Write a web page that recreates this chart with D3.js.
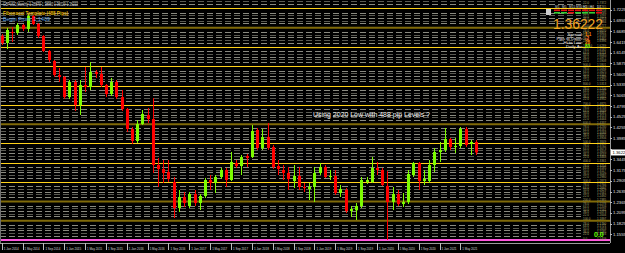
<!DOCTYPE html>
<html>
<head>
<meta charset="utf-8">
<script src="https://cdn.jsdelivr.net/npm/d3@7"></script>
<style>
  html, body { margin: 0; padding: 0; background: #000; overflow: hidden; }
  svg { display: block; font-family: "Liberation Sans", Arial, sans-serif; }
</style>
</head>
<body>
<div id="chart"></div>
<script>
// GBPUSD monthly, Jan 2014 .. Aug 2021
const open = [1.6567,1.6390,1.6668,1.6643,1.6845,1.6744,1.7072,1.6870,1.6567,1.6188,
  1.5935,1.5581,1.5530,1.5024,1.5404,1.4822,1.5328,1.5277,1.5657,1.5606,
  1.5328,1.5100,1.5404,1.5024,1.4721,1.4216,1.3912,1.4342,1.4569,1.4468,
  1.3305,1.3204,1.3128,1.2875,1.2218,1.2496,1.2268,1.2572,1.2344,1.2521,
  1.2926,1.2850,1.3002,1.3179,1.2926,1.3356,1.3280,1.3533,1.3507,1.4190,
  1.3735,1.4013,1.3760,1.3280,1.3179,1.3103,1.2901,1.3027,1.2749,1.2698,
  1.2749,1.3103,1.3255,1.3002,1.3027,1.2597,1.2673,1.2142,1.2160,1.2268,
  1.2875,1.2875,1.3229,1.3179,1.2774,1.2370,1.2572,1.2319,1.2370,1.3052,
  1.3356,1.2901,1.2901,1.3305,1.3634,1.3685,1.3963,1.3760,1.3786,1.4216,
  1.3836,1.3887];
const high = [1.6617,1.6769,1.6794,1.6895,1.6870,1.7123,1.7098,1.6895,1.6592,1.6213,
  1.5960,1.5758,1.5555,1.5454,1.5454,1.5454,1.5783,1.5909,1.5707,1.5783,
  1.5353,1.5505,1.5454,1.5201,1.4746,1.4266,1.4443,1.4696,1.4746,1.4999,
  1.3482,1.3432,1.3432,1.3002,1.2673,1.2622,1.2622,1.2673,1.2572,1.2977,
  1.3052,1.3052,1.3229,1.3229,1.3634,1.3432,1.3558,1.3583,1.4317,1.4241,
  1.4216,1.4367,1.3811,1.3432,1.3305,1.3255,1.3305,1.3255,1.2850,1.2850,
  1.3255,1.3356,1.3305,1.3179,1.3179,1.2800,1.2724,1.2268,1.2344,1.3002,
  1.3002,1.3507,1.3381,1.3229,1.3150,1.2749,1.2673,1.2597,1.3179,1.3381,
  1.3381,1.3179,1.3432,1.3735,1.3887,1.4241,1.3988,1.3988,1.4266,1.4266,
  1.3938,1.3938];
const low = [1.6339,1.6238,1.6415,1.6592,1.6693,1.6668,1.6845,1.6516,1.6162,1.5909,
  1.5530,1.5404,1.4974,1.4974,1.4671,1.4569,1.5151,1.5201,1.5505,1.5277,
  1.5024,1.5050,1.4974,1.4671,1.4140,1.3836,1.3862,1.4317,1.4367,1.3103,
  1.2749,1.2850,1.2875,1.1965,1.2117,1.2243,1.2218,1.2268,1.2167,1.2471,
  1.2673,1.2597,1.2951,1.2749,1.2901,1.3229,1.3052,1.3255,1.3482,1.3685,
  1.3685,1.3685,1.3204,1.3052,1.2926,1.2673,1.2724,1.2673,1.2622,1.2420,
  1.2370,1.3052,1.2977,1.2926,1.2547,1.2496,1.2090,1.1991,1.1915,1.2218,
  1.2825,1.2850,1.3052,1.2774,1.1409,1.2167,1.2268,1.2243,1.2319,1.3002,
  1.2673,1.2800,1.2850,1.3128,1.3381,1.3634,1.3685,1.3609,1.3735,1.3760,
  1.3558,1.3558];
const close = [1.6390,1.6718,1.6643,1.6845,1.6744,1.7072,1.6870,1.6567,1.6188,1.5960,
  1.5581,1.5530,1.5024,1.5404,1.4822,1.5328,1.5277,1.5657,1.5606,1.5328,
  1.5100,1.5404,1.5024,1.4721,1.4216,1.3912,1.4342,1.4595,1.4468,1.3305,
  1.3204,1.3103,1.2951,1.2218,1.2496,1.2344,1.2572,1.2344,1.2521,1.2926,
  1.2850,1.3002,1.3179,1.2926,1.3381,1.3280,1.3507,1.3482,1.4165,1.3735,
  1.4013,1.3735,1.3255,1.3204,1.3103,1.2951,1.3027,1.2749,1.2724,1.2749,
  1.3103,1.3255,1.3002,1.3027,1.2597,1.2698,1.2142,1.2193,1.2268,1.2926,
  1.2926,1.3229,1.3179,1.2800,1.2370,1.2572,1.2319,1.2370,1.3078,1.3356,
  1.2901,1.2951,1.3305,1.3634,1.3685,1.3963,1.3760,1.3786,1.4216,1.3811,
  1.3887,1.3622];

// 2020 low + 488 pip steps
const levels = [1.1409,1.1897,1.2385,1.2873,1.3361,1.3849,1.4337,1.4825,1.5313,1.5801,1.6289,1.6777,1.7265,1.7753];
const levelPct = ["0.0","100.0","200.0","300.0","400.0","500.0","600.0","700.0","800.0","900.0","1000.0","1100.0","1200.0","1300.0"];
const subRatios = [0.22, 0.36, 0.5, 0.64, 0.78];
const subPct = ["78.0","64.0","50.0","36.0","22.0"];

const timeLabels = ["1 Jan 2014","1 May 2014","1 Sep 2014","1 Jan 2015","1 May 2015","1 Sep 2015",
  "1 Jan 2016","1 May 2016","1 Sep 2016","1 Jan 2017","1 May 2017","1 Sep 2017",
  "1 Jan 2018","1 May 2018","1 Sep 2018","1 Jan 2019","1 May 2019","1 Sep 2019",
  "1 Jan 2020","1 May 2020","1 Sep 2020","1 Jan 2021","1 May 2021"];
const priceTicks = [1.1555,1.1825,1.2095,1.2365,1.2635,1.2905,1.3175,1.3445,1.3715,1.3985,1.4255,
  1.4525,1.4795,1.5065,1.5335,1.5605,1.5875,1.6145,1.6415,1.6685,1.6955,1.7225];
const lastPrice = 1.36222;

const infoLabels = ["Spread:", "Pips to Open:", "Hi to Low:", "Daily Av:"];
const infoValues = ["1.1", "-2", "28", "83"];
const tfLabels = ["M1","M5","M15","M30","H1","H4","D1"];
const tfRow1 = [0,0,0,0,0,0,0];
const tfRow2 = [1,1,0,1,1,1,0];

const W = 625, H = 253;
const plotR = 610, plotB = 243;

const svg = d3.select("#chart").append("svg")
  .attr("width", W).attr("height", H);

svg.append("rect").attr("width", W).attr("height", H).attr("fill", "#000");

const x = d3.scaleLinear().domain([0, 117]).range([1.7, 1.7 + 117 * 5.212]);
const y = d3.scaleLinear().domain([1.1409, 1.7477]).range([240, 0]);
const py = p => Math.round(y(p)) + 0.5;

svg.append("clipPath").attr("id", "plot")
  .append("rect").attr("x", 0).attr("y", 0).attr("width", plotR).attr("height", plotB);

const g = svg.append("g").attr("clip-path", "url(#plot)");

// dashed sub levels
const subRows = [];
for (let k = 0; k < levels.length - 1; k++) {
  const step = levels[k + 1] - levels[k];
  subRatios.forEach((r, j) => {
    subRows.push({ price: levels[k + 1] - r * step, pct: subPct[j], j: j });
  });
}
g.selectAll(".sub").data(subRows).enter().append("line")
  .attr("x1", 0).attr("x2", 581)
  .attr("y1", d => py(d.price)).attr("y2", d => py(d.price))
  .attr("stroke", d => d.j % 2 ? "#5a5a52" : "#8a8a80")
  .attr("stroke-width", 1)
  .attr("stroke-dasharray", "6,3");

// main levels
const isOlive = i => [1, 2, 6, 11].includes(i);
g.selectAll(".lvl").data(levels).enter().append("line")
  .attr("x1", 0).attr("x2", plotR)
  .attr("y1", (d, i) => isOlive(i) || i === 0 ? y(d) : py(d))
  .attr("y2", (d, i) => isOlive(i) || i === 0 ? y(d) : py(d))
  .attr("stroke", (d, i) => i === 0 ? "#ff55dd" : (isOlive(i) ? "#806a08" : "#ffd21a"))
  .attr("stroke-width", (d, i) => (i === 0 || isOlive(i)) ? 2 : 1.2);

// level labels on the right
const labelRows = subRows.concat(levels.map((p, i) => ({ price: p, pct: levelPct[i], j: -1 })))
  .filter(d => y(d.price) > 4);
g.selectAll(".lp").data(labelRows).enter().append("text")
  .attr("x", 583).attr("y", d => y(d.price) - 0.3)
  .attr("font-size", 3).attr("fill", "#aaa470")
  .text(d => d.pct);
g.selectAll(".lv").data(labelRows).enter().append("text")
  .attr("x", 597).attr("y", d => y(d.price) - 0.3)
  .attr("font-size", 3).attr("fill", "#aaa470")
  .text(d => d.price.toFixed(4));

g.append("text").attr("x", 594).attr("y", 237)
  .attr("font-size", 7).attr("font-weight", "bold").attr("fill", "#66ff00")
  .text("0.0");

// candles
const idx = d3.range(open.length);
const col = i => close[i] >= open[i] ? "#7cfc00" : "#ff0000";
g.selectAll(".wick").data(idx).enter().append("line")
  .attr("x1", i => Math.round(x(i)) + 0.5).attr("x2", i => Math.round(x(i)) + 0.5)
  .attr("y1", i => y(high[i])).attr("y2", i => y(low[i]))
  .attr("stroke", col).attr("stroke-width", 1);
g.selectAll(".body").data(idx).enter().append("rect")
  .attr("x", i => Math.round(x(i)) - 1)
  .attr("width", 3)
  .attr("y", i => y(Math.max(open[i], close[i])))
  .attr("height", i => Math.max(1, Math.abs(y(open[i]) - y(close[i]))))
  .attr("fill", col);

// frame
svg.append("line").attr("x1", plotR + 0.5).attr("x2", plotR + 0.5).attr("y1", 0).attr("y2", plotB)
  .attr("stroke", "#9a9a9a");
svg.append("line").attr("x1", 0).attr("x2", plotR).attr("y1", plotB + 0.5).attr("y2", plotB + 0.5)
  .attr("stroke", "#9a9a9a");
svg.append("line").attr("x1", 0.5).attr("x2", 0.5).attr("y1", 0).attr("y2", plotB)
  .attr("stroke", "#707070");

// price axis
const yAxis = svg.append("g");
yAxis.selectAll("line").data(priceTicks).enter().append("line")
  .attr("x1", plotR).attr("x2", plotR + 2)
  .attr("y1", d => py(d)).attr("y2", d => py(d)).attr("stroke", "#bbb");
yAxis.selectAll("text").data(priceTicks.filter(d => Math.abs(y(d) - y(lastPrice)) > 5)).enter().append("text")
  .attr("x", 613).attr("y", d => y(d) + 1.5)
  .attr("font-size", 4.2).attr("fill", "#e0e0e0")
  .text(d => d.toFixed(4));
yAxis.append("rect").attr("x", 611).attr("y", y(lastPrice) - 3).attr("width", 14).attr("height", 6)
  .attr("fill", "#ffffff");
yAxis.append("text").attr("x", 612.5).attr("y", y(lastPrice) + 1.6)
  .attr("font-size", 4.2).attr("fill", "#000").text(lastPrice.toFixed(4));

// time axis
const xAxis = svg.append("g");
xAxis.selectAll("line").data(timeLabels).enter().append("line")
  .attr("x1", (d, i) => Math.round(x(i * 4)) + 0.5).attr("x2", (d, i) => Math.round(x(i * 4)) + 0.5)
  .attr("y1", plotB).attr("y2", 250).attr("stroke", "#bbb");
xAxis.selectAll("text").data(timeLabels).enter().append("text")
  .attr("x", (d, i) => x(i * 4) + 2).attr("y", 250)
  .attr("font-size", 3.8).attr("fill", "#d8d8d8")
  .attr("textLength", 15).attr("lengthAdjust", "spacingAndGlyphs")
  .text(d => d);

// top-left texts
svg.append("text").attr("x", 3).attr("y", 5.5).attr("font-size", 4.5).attr("fill", "#d0d0d0")
  .attr("textLength", 75).attr("lengthAdjust", "spacingAndGlyphs")
  .text("GBPUSD,Monthly  1.38870 1.38960 1.36020 1.36222");
svg.append("text").attr("x", 3).attr("y", 15).attr("font-size", 5.5).attr("font-weight", "bold")
  .attr("fill", "#e0b400").attr("textLength", 65).attr("lengthAdjust", "spacingAndGlyphs")
  .text("Fibonacci Template (488 Pips)");
svg.append("text").attr("x", 3).attr("y", 21).attr("font-size", 4.6)
  .attr("fill", "#5ba3e0").attr("textLength", 47).attr("lengthAdjust", "spacingAndGlyphs")
  .text("Begin From:   1.1409");

svg.append("text").attr("x", 313).attr("y", 116.5).attr("font-size", 7).attr("fill", "#f0f0f0")
  .attr("textLength", 117).attr("lengthAdjust", "spacingAndGlyphs")
  .text("Using 2020 Low with 488 pip Levels ?");

// top-right info panel
const panel = svg.append("g");
panel.append("rect").attr("x", 546).attr("y", 9).attr("width", 5).attr("height", 6).attr("fill", "#cfcfcf");
panel.selectAll(".tf").data(tfLabels).enter().append("text")
  .attr("x", (d, i) => 555 + i * 7).attr("y", 8).attr("font-size", 3.2).attr("fill", "#d0d0d0")
  .text(d => d);
panel.selectAll(".r1").data(tfRow1).enter().append("rect")
  .attr("x", (d, i) => 554 + i * 7).attr("y", 9.5).attr("width", 6).attr("height", 1.6)
  .attr("fill", d => d ? "#32cd32" : "#e01010");
panel.selectAll(".r2").data(tfRow2).enter().append("rect")
  .attr("x", (d, i) => 554 + i * 7).attr("y", 12).attr("width", 6).attr("height", 1.6)
  .attr("fill", d => d ? "#32cd32" : "#e01010");
panel.append("text").attr("x", 553).attr("y", 29).attr("font-size", 14)
  .attr("fill", "#f5a623").attr("textLength", 50).attr("lengthAdjust", "spacingAndGlyphs")
  .text(lastPrice.toFixed(5));
const valueColors = ["#ff8c00", "#ff6020", "#ff8c00", "#7cfc00"];
panel.selectAll(".il").data(infoLabels).enter().append("text")
  .attr("x", 583).attr("y", (d, i) => 35.5 + i * 4.3).attr("font-size", 4.4)
  .attr("text-anchor", "end").attr("fill", "#e8e8e8")
  .text(d => d);
panel.selectAll(".iv").data(infoValues).enter().append("text")
  .attr("x", 585).attr("y", (d, i) => 35.5 + i * 4.3).attr("font-size", 4.6).attr("font-weight", "bold")
  .attr("fill", (d, i) => valueColors[i])
  .text(d => d);
</script>
</body>
</html>
